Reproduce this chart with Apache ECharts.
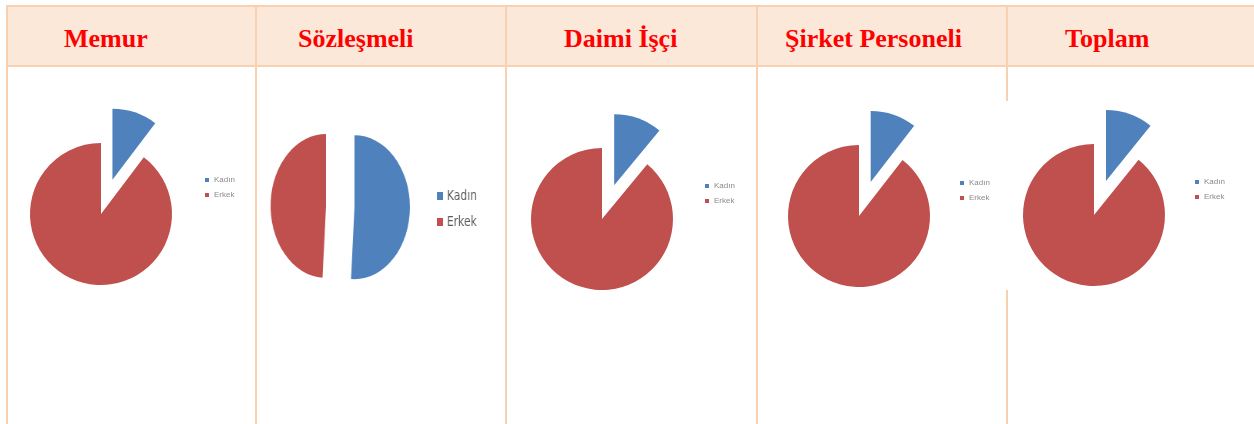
<!DOCTYPE html>
<html>
<head>
<meta charset="utf-8">
<script src="https://cdn.jsdelivr.net/npm/echarts@6/dist/echarts.min.js"></script>
<style>
  body { margin: 0; background: #fff; }
  .ln { position: absolute; background: #F8D1B1; }
  .hd { position: absolute; top: 26px; font: bold 26px "Liberation Serif", "Times New Roman", serif; color: #ff0000; line-height: 26px; white-space: nowrap; }
</style>
</head>
<body>
<div id="tbl" style="position:absolute;left:0;top:0;width:1254px;height:424px;">
  <div style="position:absolute;left:8px;top:7px;width:1246px;height:58px;background:#FCE8D9;"></div>
  <div class="ln" style="left:6px;top:5px;width:1248px;height:2px;"></div>
  <div class="ln" style="left:6px;top:65px;width:1248px;height:2px;"></div>
  <div class="ln" style="left:6px;top:5px;width:2px;height:419px;"></div>
  <div class="ln" style="left:255px;top:5px;width:2px;height:419px;"></div>
  <div class="ln" style="left:505px;top:5px;width:2px;height:419px;"></div>
  <div class="ln" style="left:756px;top:5px;width:2px;height:419px;"></div>
  <div class="ln" style="left:1006px;top:5px;width:2px;height:419px;"></div>
  <!-- pasted picture in the last cell covers its border -->
  <div style="position:absolute;left:1005px;top:101px;width:5px;height:189px;background:#fff;"></div>
</div>
<div id="main" style="position:absolute;left:0;top:0;width:1254px;height:424px;"></div>
<div id="soz" style="position:absolute;left:228px;top:68px;width:360px;height:356px;transform:scaleX(0.77);transform-origin:98px 0;"></div>
<script>
var groups = ['Memur', 'Sözleşmeli', 'Daimi İşçi', 'Şirket Personeli', 'Toplam'];
var names = ['Kadın', 'Erkek'];
var kadin = [10.3, 51, 11, 10.5, 10.8];
var erkek = [89.7, 49, 89, 89.5, 89.2];

var colors = ['#4F81BD', '#C0504D'];

// header titles
var titleLeft = [64, 298, 564, 785, 1065];
groups.forEach(function (g, i) {
  var d = document.createElement('div');
  d.className = 'hd';
  d.style.left = titleLeft[i] + 'px';
  d.textContent = g;
  document.getElementById('tbl').appendChild(d);
});

function pieData(i) {
  return [
    { name: names[0], value: kadin[i], selected: true },
    { name: names[1], value: erkek[i] }
  ];
}

function pieSeries(i, center, r, off) {
  return {
    type: 'pie',
    name: groups[i],
    center: center,
    radius: r,
    startAngle: 90,
    clockwise: true,
    selectedMode: 'single',
    selectedOffset: off,
    silent: true,
    label: { show: false },
    labelLine: { show: false },
    itemStyle: { borderWidth: 0 },
    emphasis: { disabled: true },
    data: pieData(i)
  };
}

function smallLegend(left, top) {
  return {
    left: left, top: top,
    orient: 'vertical',
    padding: 0,
    icon: 'rect',
    itemWidth: 4, itemHeight: 4,
    itemGap: 7,
    selectedMode: false,
    textStyle: { fontSize: 8, color: '#8a8a8a', fontFamily: 'Liberation Sans' },
    data: names
  };
}

// four small pies in one chart
var idx = [0, 2, 3, 4];
var centers = [[101, 214], [602, 219], [859, 216], [1094, 215]];
var legPos = [[205, 176], [705, 182], [960, 179], [1195, 178]];

var option = {
  animation: false,
  color: colors,
  legend: legPos.map(function (p) { return smallLegend(p[0], p[1]); }),
  series: idx.map(function (i, k) { return pieSeries(i, centers[k], 71, 36); })
};
echarts.init(document.getElementById('main')).setOption(option);

// Sözleşmeli picture is squeezed sideways in the reference
var option2 = {
  animation: false,
  color: colors,
  legend: {
    left: 242, top: 121,
    orient: 'vertical',
    padding: 0,
    icon: 'rect',
    itemWidth: 8, itemHeight: 8,
    itemGap: 12,
    selectedMode: false,
    textStyle: { fontSize: 14, color: '#595959', fontFamily: 'DejaVu Sans' },
    data: names
  },
  series: [pieSeries(1, [98, 138], 72, 37)]
};
echarts.init(document.getElementById('soz')).setOption(option2);
</script>
</body>
</html>
